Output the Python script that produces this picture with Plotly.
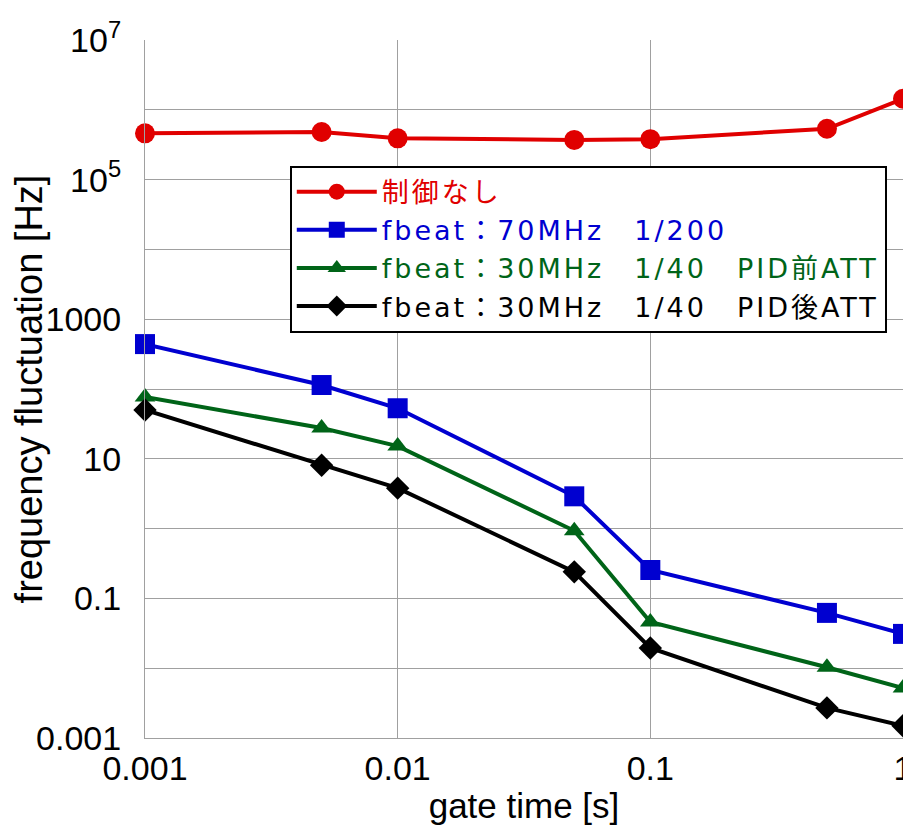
import plotly.graph_objects as go

gate_time = [0.001, 0.005, 0.01, 0.05, 0.1, 0.5, 1]
no_control = [4.6e5, 4.8e5, 3.9e5, 3.7e5, 3.8e5, 5.35e5, 1.44e6]
beat70_200 = [440, 114, 53, 2.9, 0.255, 0.062, 0.031]
beat30_40_pre = [77, 27.6, 15.2, 0.93, 0.046, 0.0103, 0.0052]
beat30_40_post = [50, 8.1, 3.8, 0.24, 0.0195, 0.0027, 0.0015]

names = ["制御なし", "fbeat：70MHz　1/200", "fbeat：30MHz　1/40　PID前ATT", "fbeat：30MHz　1/40　PID後ATT"]
colors = ["#e00000", "#0000d0", "#006418", "#000000"]
symbols = ["circle", "square", "triangle-up", "diamond"]
sizes = [20, 20, 18, 18]
series = [no_control, beat70_200, beat30_40_pre, beat30_40_post]

y_tickvals = [1e7, 1e6, 1e5, 1e4, 1e3, 1e2, 1e1, 1, 0.1, 0.01, 0.001]
y_ticktext = ["10<sup>7</sup>", "", "10<sup>5</sup>", "", "1000", "", "10", "", "0.1", "", "0.001"]
x_tickvals = [0.001, 0.01, 0.1, 1]
x_ticktext = ["0.001", "0.01", "0.1", "1"]

FONT = "Liberation Sans, Arial, Noto Sans CJK JP"

fig = go.Figure()
for nm, col, sym, sz, ys in zip(names, colors, symbols, sizes, series):
    fig.add_trace(go.Scatter(
        x=gate_time, y=ys, mode="lines+markers",
        name=f"<span style='color:{col};letter-spacing:3px'>{nm}</span>",
        line=dict(color=col, width=4),
        marker=dict(symbol=sym, size=sz, color=col),
        cliponaxis=False,
    ))

fig.update_layout(
    width=903, height=817,
    margin=dict(l=137, r=8, t=32, b=87),
    paper_bgcolor="white", plot_bgcolor="white",
    font=dict(family=FONT, size=30, color="black"),
    showlegend=True,
    legend=dict(
        x=0.191, y=0.82, xanchor="left", yanchor="top",
        bgcolor="white", bordercolor="black", borderwidth=2,
        font=dict(family="DejaVu Sans, Noto Sans CJK JP", size=27),
        tracegroupgap=0, itemwidth=80,
    ),
    xaxis=dict(
        type="log", range=[-3, 0], tickvals=x_tickvals, ticktext=x_ticktext,
        showgrid=True, gridcolor="#a0a0a0", gridwidth=1,
        showline=True, linecolor="#a0a0a0", linewidth=1,
        ticks="", zeroline=False, automargin=False, ticklabeloverflow="allow",
        title=dict(text="gate time [s]", font=dict(size=35), standoff=4),
        tickfont=dict(size=34),
    ),
    yaxis=dict(
        type="log", range=[-3, 7], tickvals=y_tickvals, ticktext=y_ticktext,
        showgrid=True, gridcolor="#a0a0a0", gridwidth=1,
        showline=True, linecolor="#a0a0a0", linewidth=1,
        ticks="", zeroline=False, automargin=False, ticklabeloverflow="allow",
        ticklabelstandoff=16,
        title=dict(text="frequency fluctuation [Hz]", font=dict(size=38), standoff=0),
        tickfont=dict(size=34),
    ),
)

fig.write_html("out.html")
